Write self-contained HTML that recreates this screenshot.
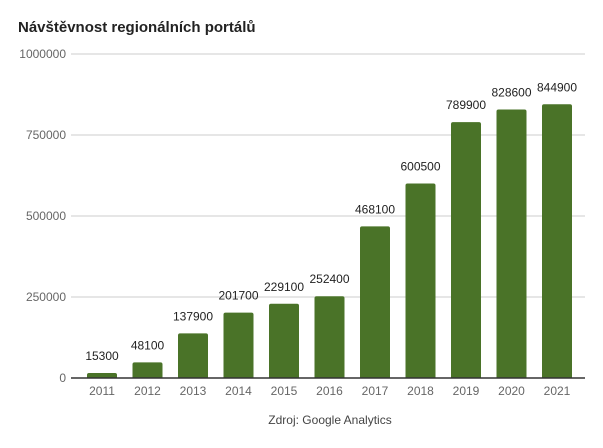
<!DOCTYPE html>
<html><head><meta charset="utf-8"><style>
body{margin:0;background:#fff;width:603px;height:443px;overflow:hidden;font-family:"Liberation Sans",Roboto,sans-serif}
</style></head><body>
<svg width="603" height="443" id="c">
<text x="18" y="32" font-size="15" font-weight="bold" fill="#222">Návštěvnost regionálních portálů</text>
<text x="330" y="424" font-size="12" fill="#444" text-anchor="middle">Zdroj: Google Analytics</text>
</svg>
<script>
const categories=["2011","2012","2013","2014","2015","2016","2017","2018","2019","2020","2021"];
const values=[15300,48100,137900,201700,229100,252400,468100,600500,789900,828600,844900];
const ticks=[0,250000,500000,750000,1000000];
const svg=document.getElementById('c');const NS='http://www.w3.org/2000/svg';
const y0=378,yTop=54,maxV=1000000;
const y=v=>y0-(v/maxV)*(y0-yTop);
const xc=i=>102+i*45.5;
function mk(t,a,txt){const e=document.createElementNS(NS,t);for(const k in a)e.setAttribute(k,a[k]);if(txt!=null)e.textContent=txt;svg.appendChild(e);return e;}
ticks.forEach(t=>{
 const l=mk('line',{x1:71,x2:585,y1:y(t),y2:y(t),stroke:t===0?'#333':'#ccc','stroke-width':1});
 
 
 const tx=mk('text',{x:66,y:y(t)+4,'font-size':12,fill:'#666','text-anchor':'end'},String(t));
 
 
});
categories.forEach((c,i)=>{
 const v=values[i];
 const b=mk('path',{d:`M${xc(i)-15},${y0} V${y(v)+2} Q${xc(i)-15},${y(v)} ${xc(i)-13},${y(v)} H${xc(i)+13} Q${xc(i)+15},${y(v)} ${xc(i)+15},${y(v)+2} V${y0} Z`,fill:'#4a7328'});
 
 
 const lb=mk('text',{x:xc(i),y:y(v)-13,'font-size':12,fill:'#222','text-anchor':'middle'},String(v));
 
 
 const xl=mk('text',{x:xc(i),y:395,'font-size':12,fill:'#666','text-anchor':'middle'},c);
 
 
});
const ax=mk('line',{x1:71,x2:585,y1:y0,y2:y0,stroke:'#333','stroke-width':1.5});


</script>
</body></html>
